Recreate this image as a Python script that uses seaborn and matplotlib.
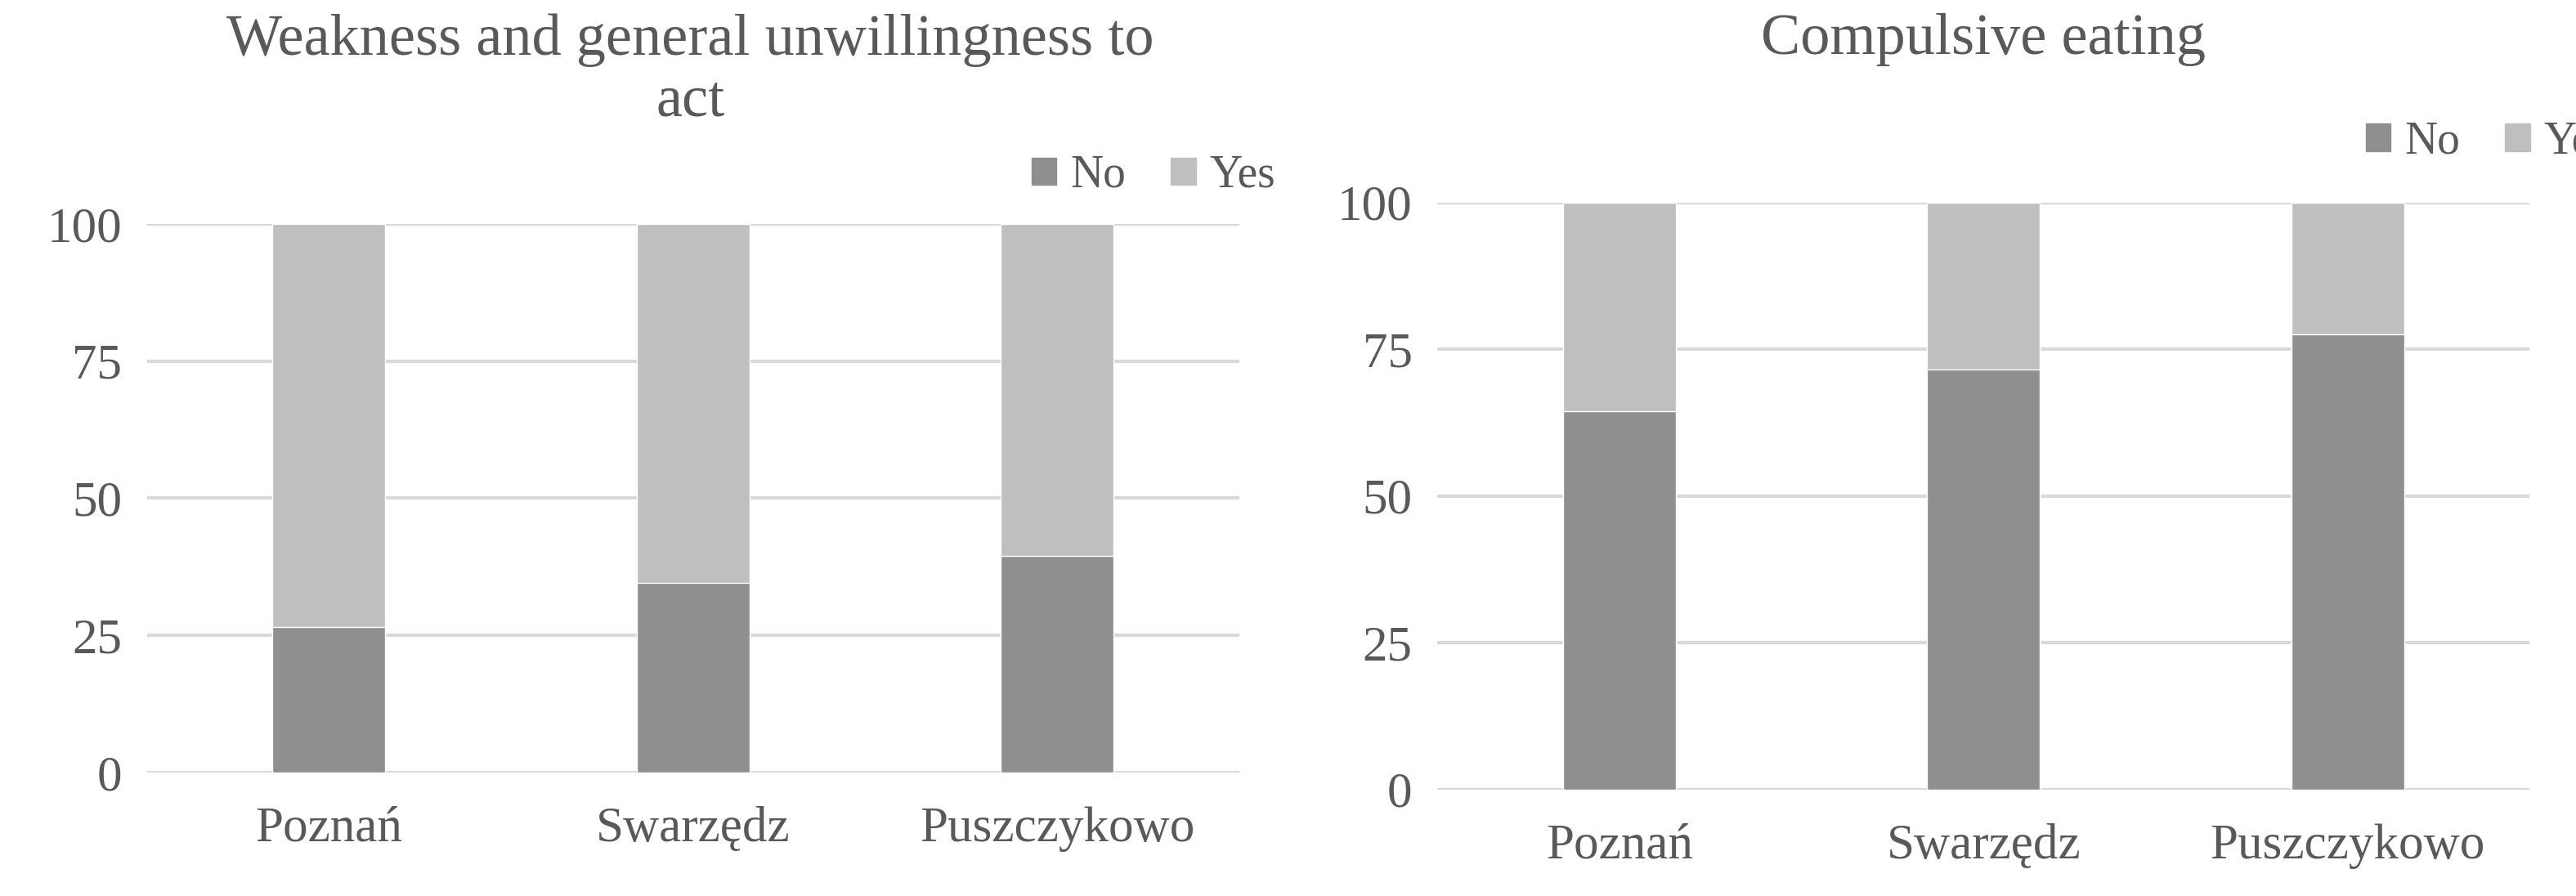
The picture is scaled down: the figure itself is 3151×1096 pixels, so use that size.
import matplotlib
matplotlib.use("Agg")
import matplotlib.pyplot as plt
import seaborn as sns
import pandas as pd
from matplotlib.patches import Patch

sns.set_theme(style="white")
plt.rcParams['font.family'] = ['Liberation Serif', 'DejaVu Serif']

cities = ["Poznań", "Swarzędz", "Puszczykowo"]
weak_no = [26.5, 34.5, 39.5]
weak_yes = [73.5, 65.5, 60.5]
comp_no = [64.5, 71.5, 77.5]
comp_yes = [35.5, 28.5, 22.5]
titles = ["Weakness and general unwillingness to\nact", "Compulsive eating"]
ticks = [0, 25, 50, 75, 100]
c_no, c_yes = "#8f8f8f", "#bfbfbf"
txt = "#595959"

fig = plt.figure(figsize=(31.51, 10.96), dpi=100)
axes = [fig.add_axes([0.057, 0.138, 0.424, 0.612]),
        fig.add_axes([0.558, 0.119, 0.424, 0.655])]
sets = [(weak_no, weak_yes), (comp_no, comp_yes)]
legpos = [(1.05, 1.16), (1.09, 1.17)]
titley = [0.985, 0.985]
titlex = [0.268, 0.77]
for ax, (no, yes), title, lp, tx, ty in zip(axes, sets, titles, legpos, titlex, titley):
    df = pd.DataFrame({"city": cities, "no": no,
                       "total": [a + b for a, b in zip(no, yes)]})
    sns.barplot(data=df, x="city", y="total", color=c_yes, width=0.31,
                saturation=1, ax=ax, zorder=3)
    sns.barplot(data=df, x="city", y="no", color=c_no, width=0.31,
                saturation=1, ax=ax, zorder=4)
    ax.set_ylim(0, 100)
    ax.set_yticks(ticks)
    ax.set_xlim(-0.5, 2.5)
    ax.yaxis.grid(True, color="#d9d9d9", linewidth=3, zorder=0)
    for s in ax.spines.values():
        s.set_visible(False)
    ax.set_xlabel("")
    ax.set_ylabel("")
    ax.tick_params(axis="both", length=0, labelsize=44, labelcolor=txt, pad=22)
    ax.tick_params(axis="x", pad=30)
    fig.text(tx, ty, title, fontsize=52, color=txt, ha="center", va="top",
             linespacing=1.2)
    ax.legend(handles=[Patch(color=c_no, label="No"), Patch(color=c_yes, label="Yes")],
              loc="upper right", bbox_to_anchor=lp, ncol=2, frameon=False,
              fontsize=40, labelcolor=txt, handlelength=0.55, handleheight=0.55,
              handletextpad=0.3, columnspacing=1.0, borderaxespad=0)

fig.savefig("out.png", dpi=100)
